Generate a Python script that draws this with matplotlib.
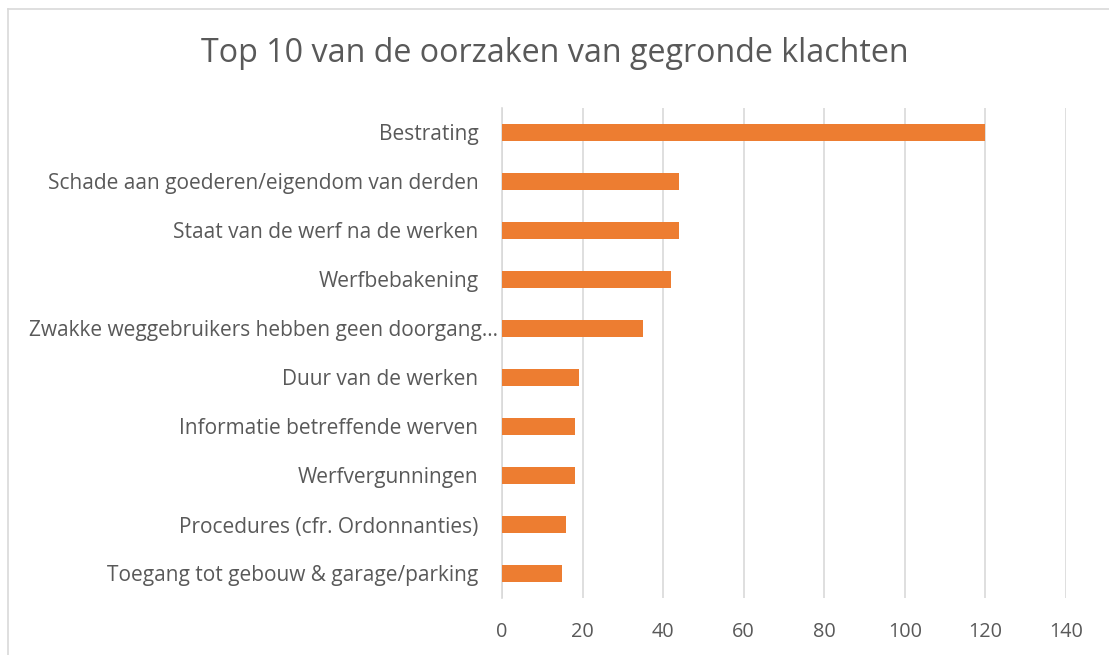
import matplotlib.pyplot as plt
from matplotlib.lines import Line2D
from matplotlib.transforms import ScaledTranslation

categories = [
    "Bestrating",
    "Schade aan goederen/eigendom van derden",
    "Staat van de werf na de werken",
    "Werfbebakening",
    "Zwakke weggebruikers hebben geen doorgang\u2026",
    "Duur van de werken",
    "Informatie betreffende werven",
    "Werfvergunningen",
    "Procedures (cfr. Ordonnanties)",
    "Toegang tot gebouw & garage/parking",
]
values = [120, 44, 44, 42, 35, 19, 18, 18, 16, 15]
xticks = [0, 20, 40, 60, 80, 100, 120, 140]

text_color = "#595959"
plt.rcParams['font.family'] = ['Open Sans', 'DejaVu Sans']

fig = plt.figure(figsize=(11.09, 6.55), dpi=100)
ax = fig.add_axes([502 / 1109, 1 - 598 / 655, 564 / 1109, 490 / 655])

ypos = list(range(len(categories)))
ax.barh(ypos, values, height=0.35, color="#ED7D31", zorder=3)
ax.set_ylim(len(categories) - 0.5, -0.5)
ax.set_xlim(0, 140)
ax.set_xticks(xticks)
ax.set_yticks(ypos)
ax.set_yticklabels(categories)
ax.grid(axis='x', color="#d9d9d9", linewidth=1.2, zorder=0)

for s in ['top', 'right', 'bottom']:
    ax.spines[s].set_visible(False)
ax.spines['left'].set_color("#d9d9d9")
ax.spines['left'].set_linewidth(1.2)
ax.tick_params(axis='both', length=0, colors=text_color)
ax.tick_params(axis='y', pad=17, labelsize=15)
ax.tick_params(axis='x', pad=17, labelsize=14.3)

# the truncated label sits closer to the axis, like in Excel
for lbl in ax.get_yticklabels():
    if lbl.get_text().endswith("\u2026"):
        lbl.set_transform(lbl.get_transform() + ScaledTranslation(14 / 72, 0, fig.dpi_scale_trans))

fig.text(0.5, 1 - 53 / 655, "Top 10 van de oorzaken van gegronde klachten",
         ha='center', va='center', fontsize=23.2, color=text_color)

# chart frame
fig.add_artist(Line2D([8 / 1109, 8 / 1109], [0, 1 - 9 / 655],
                      transform=fig.transFigure, color="#d9d9d9", linewidth=1.2))
fig.add_artist(Line2D([8 / 1109, 1], [1 - 9 / 655, 1 - 9 / 655],
                      transform=fig.transFigure, color="#d9d9d9", linewidth=1.2))

fig.savefig("out.png", dpi=100)
